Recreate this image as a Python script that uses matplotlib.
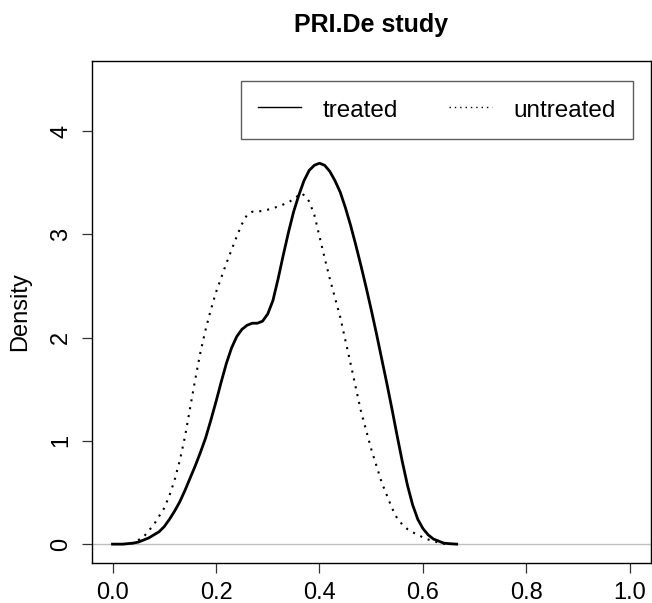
import matplotlib
matplotlib.use("Agg")
import matplotlib.pyplot as plt

plt.rcParams['font.family'] = ['Liberation Sans', 'DejaVu Sans']

# density estimates
treated_x = [0.00, 0.02, 0.04, 0.05, 0.06, 0.07, 0.08, 0.09, 0.10, 0.11, 0.12,
             0.13, 0.14, 0.15, 0.16, 0.17, 0.18, 0.19, 0.20, 0.21, 0.22, 0.23,
             0.24, 0.25, 0.26, 0.27, 0.28, 0.29, 0.30, 0.31, 0.32, 0.33, 0.34,
             0.35, 0.36, 0.37, 0.38, 0.39, 0.40, 0.41, 0.42, 0.43, 0.44, 0.45,
             0.46, 0.47, 0.48, 0.49, 0.50, 0.51, 0.52, 0.53, 0.54, 0.55, 0.56,
             0.57, 0.58, 0.59, 0.60, 0.61, 0.62, 0.63, 0.64, 0.65, 0.665]
treated_y = [0.00, 0.00, 0.01, 0.02, 0.04, 0.06, 0.09, 0.12, 0.17, 0.24, 0.32,
             0.41, 0.52, 0.64, 0.76, 0.89, 1.03, 1.20, 1.38, 1.57, 1.75, 1.90,
             2.01, 2.08, 2.12, 2.14, 2.14, 2.16, 2.23, 2.36, 2.57, 2.80, 3.02,
             3.22, 3.38, 3.52, 3.62, 3.67, 3.69, 3.67, 3.61, 3.52, 3.41, 3.26,
             3.09, 2.90, 2.70, 2.49, 2.27, 2.04, 1.80, 1.56, 1.31, 1.05, 0.80,
             0.57, 0.38, 0.24, 0.15, 0.09, 0.05, 0.03, 0.01, 0.005, 0.00]

untreated_x = [0.02, 0.04, 0.06, 0.08, 0.10, 0.11, 0.12, 0.13, 0.14, 0.15,
               0.16, 0.17, 0.18, 0.19, 0.20, 0.22, 0.24, 0.25, 0.26, 0.27,
               0.28, 0.30, 0.32, 0.34, 0.36, 0.365, 0.37, 0.38, 0.39, 0.40,
               0.41, 0.42, 0.44, 0.46, 0.48, 0.50, 0.52, 0.54, 0.55, 0.56,
               0.57, 0.58, 0.59, 0.60, 0.61, 0.62, 0.63, 0.645]
untreated_y = [0.00, 0.01, 0.07, 0.19, 0.35, 0.47, 0.62, 0.81, 1.04, 1.32,
               1.60, 1.86, 2.08, 2.27, 2.44, 2.72, 2.98, 3.10, 3.19, 3.22,
               3.22, 3.24, 3.27, 3.31, 3.38, 3.40, 3.38, 3.32, 3.19, 2.98,
               2.77, 2.57, 2.20, 1.75, 1.29, 0.92, 0.60, 0.35, 0.25, 0.19,
               0.145, 0.115, 0.09, 0.065, 0.045, 0.03, 0.015, 0.00]

xticks = [0.0, 0.2, 0.4, 0.6, 0.8, 1.0]
yticks = [0, 1, 2, 3, 4]

fig = plt.figure(figsize=(6.52, 6.03), dpi=100)
ax = fig.add_axes([0.1408, 0.0668, 0.998 - 0.1408, 0.8988 - 0.0668])

ax.axhline(0, color='#BEBEBE', lw=1, zorder=1)
ax.plot(treated_x, treated_y, color='black', lw=2, label='treated', zorder=3)
ax.plot(untreated_x, untreated_y, color='black', lw=1.5,
        linestyle=(0, (1, 2.85)), label='untreated', zorder=3)

ax.set_xlim(-0.04, 1.04)
ax.set_ylim(-0.18, 4.68)
ax.set_xticks(xticks)
ax.set_xticklabels(['%.1f' % v for v in xticks])
ax.set_yticks(yticks)
ax.set_yticklabels([str(v) for v in yticks], rotation=90, va='center')
ax.tick_params(axis='both', labelsize=17, length=7.2, width=0.9, color='#333333')
ax.tick_params(axis='x', pad=6.5)
ax.tick_params(axis='y', pad=7)
for s in ax.spines.values():
    s.set_linewidth(1)

ax.set_ylabel('Density', fontsize=17)
ax.yaxis.set_label_coords(-0.108, 0.5)
ax.set_title('PRI.De study', fontsize=18, fontweight='bold', pad=21)

leg = ax.legend(loc='upper right', bbox_to_anchor=(0.968, 0.961), ncol=2,
                fontsize=17.5, frameon=True, fancybox=False, borderaxespad=0,
                borderpad=0.7, handlelength=1.77, handletextpad=0.9,
                handleheight=1.05, columnspacing=2.06)
leg.get_frame().set_edgecolor('#333333')
leg.get_frame().set_linewidth(1)
leg.get_lines()[0].set_linewidth(1)
leg.get_lines()[1].set_linewidth(1)

fig.savefig('out.png', dpi=100)
